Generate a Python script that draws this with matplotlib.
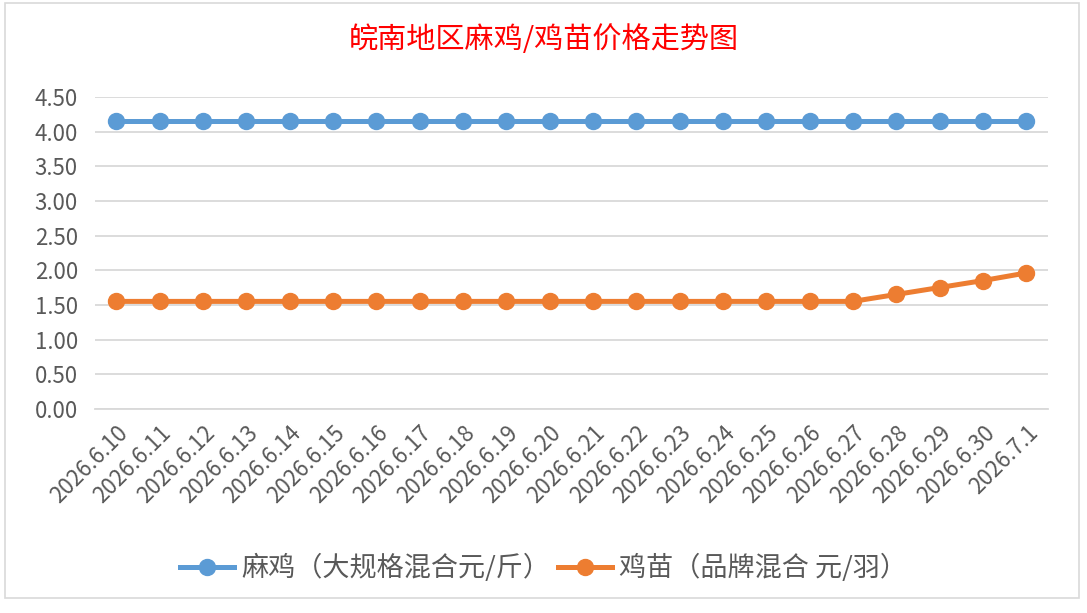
import matplotlib.pyplot as plt
from matplotlib.patches import Rectangle

plt.rcParams["font.family"] = ["Noto Sans CJK SC", "DejaVu Sans"]

# =========================================================
# DATA
# =========================================================

dates = [
    "2026.6.10", "2026.6.11", "2026.6.12", "2026.6.13", "2026.6.14",
    "2026.6.15", "2026.6.16", "2026.6.17", "2026.6.18", "2026.6.19",
    "2026.6.20", "2026.6.21", "2026.6.22", "2026.6.23", "2026.6.24",
    "2026.6.25", "2026.6.26", "2026.6.27", "2026.6.28", "2026.6.29",
    "2026.6.30", "2026.7.1",
]

ma_ji = [4.15] * 22

ji_miao = [
    1.55, 1.55, 1.55, 1.55, 1.55, 1.55, 1.55, 1.55, 1.55, 1.55, 1.55,
    1.55, 1.55, 1.55, 1.55, 1.55, 1.55, 1.55, 1.65, 1.75, 1.85, 1.96,
]

y_ticks = [0.0, 0.5, 1.0, 1.5, 2.0, 2.5, 3.0, 3.5, 4.0, 4.5]

label_ma = "麻鸡（大规格混合元/斤）"
label_miao = "鸡苗（品牌混合 元/羽）"
title = "皖南地区麻鸡/鸡苗价格走势图"

# =========================================================
# CHART
# =========================================================

fig = plt.figure(figsize=(10.87, 6.13), dpi=100)

# chart border
fig.patches.append(
    Rectangle(
        (0.005, 0.025), 0.988, 0.97,
        transform=fig.transFigure,
        fill=False, edgecolor="#d9d9d9", linewidth=1.2,
    )
)

ax = fig.add_axes([0.087, 0.333, 0.877, 0.509])

x = list(range(len(dates)))

ax.plot(
    x, ma_ji,
    color="#5b9bd5", linewidth=3.6,
    marker="o", markersize=11.5,
    label=label_ma,
)

ax.plot(
    x, ji_miao,
    color="#ed7d31", linewidth=3.6,
    marker="o", markersize=11.5,
    label=label_miao,
)

ax.set_xlim(-0.5, len(dates) - 0.5)
ax.set_ylim(0, 4.5)
ax.set_yticks(y_ticks)
ax.set_yticklabels([f"{v:.2f}" for v in y_ticks])
ax.set_xticks(x)
ax.set_xticklabels(dates, rotation=45, ha="right", rotation_mode="anchor")

ax.tick_params(axis="both", length=0, labelsize=16, colors="#595959")
ax.tick_params(axis="y", pad=12)
ax.tick_params(axis="x", pad=9)

ax.grid(axis="y", color="#d9d9d9", linewidth=1.3)
ax.set_axisbelow(True)
for side in ["top", "right", "left"]:
    ax.spines[side].set_visible(False)
ax.spines["bottom"].set_color("#d9d9d9")
ax.spines["bottom"].set_linewidth(1.3)

fig.text(
    0.5, 0.935, title,
    ha="center", va="center",
    fontsize=21, color="#ff0000",
)

fig.legend(
    loc="center",
    bbox_to_anchor=(0.5, 0.073),
    ncol=2,
    frameon=False,
    fontsize=19.5,
    labelcolor="#595959",
    handlelength=2.0,
    columnspacing=0.3,
    handletextpad=0.25,
)

fig.savefig("out.png", dpi=100)
